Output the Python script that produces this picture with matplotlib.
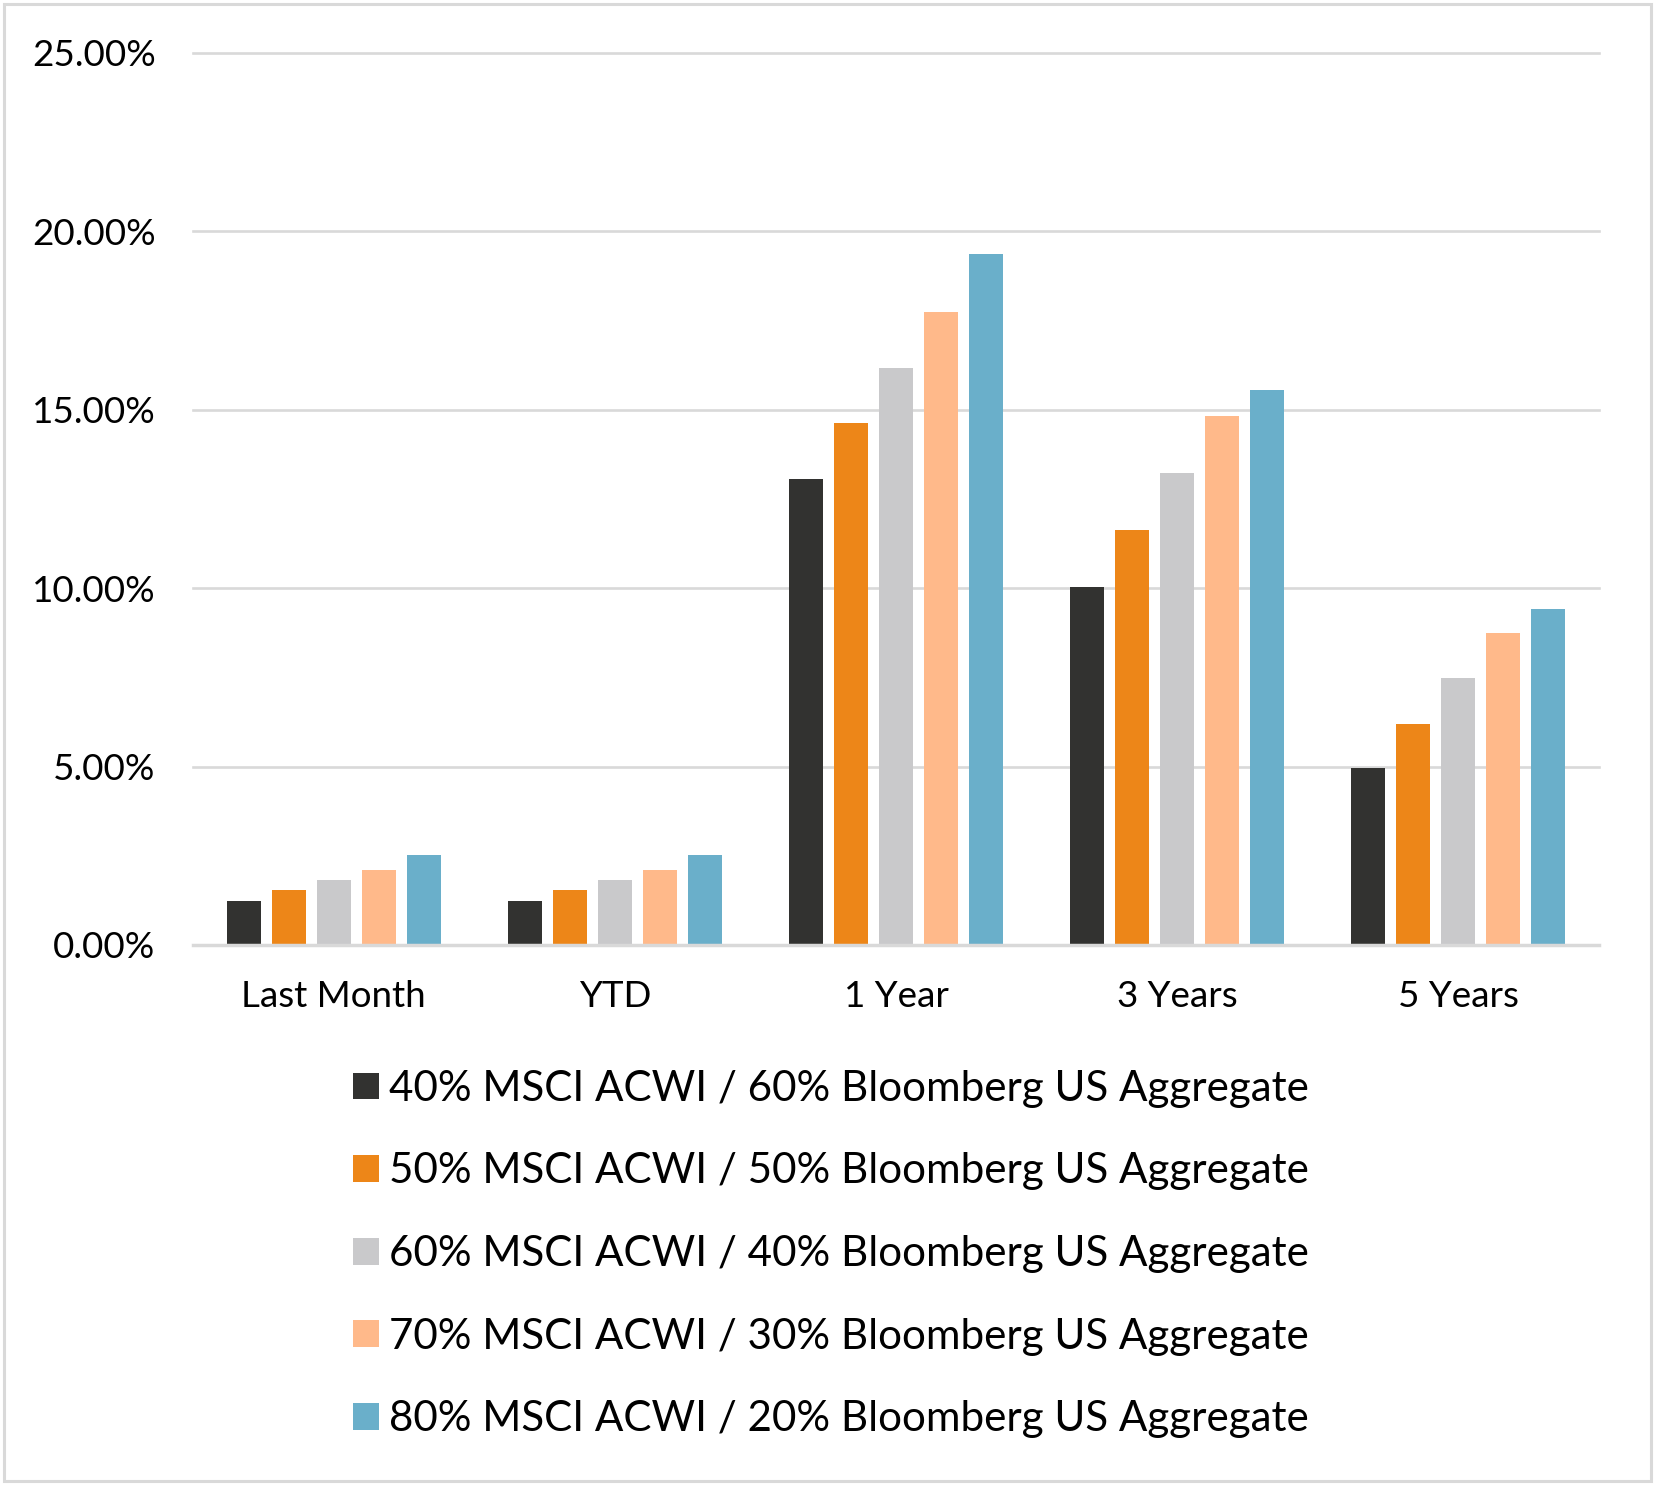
import matplotlib
matplotlib.use("Agg")
import matplotlib.pyplot as plt
from matplotlib.patches import Patch, Rectangle
from matplotlib.ticker import FuncFormatter
import numpy as np

plt.rcParams['font.family'] = ['Lato', 'DejaVu Sans']

categories = ["Last Month", "YTD", "1 Year", "3 Years", "5 Years"]
series_names = [
    "40% MSCI ACWI / 60% Bloomberg US Aggregate",
    "50% MSCI ACWI / 50% Bloomberg US Aggregate",
    "60% MSCI ACWI / 40% Bloomberg US Aggregate",
    "70% MSCI ACWI / 30% Bloomberg US Aggregate",
    "80% MSCI ACWI / 20% Bloomberg US Aggregate",
]
s40 = [1.23, 1.23, 13.05, 10.02, 4.95]
s50 = [1.53, 1.53, 14.62, 11.62, 6.20]
s60 = [1.82, 1.82, 16.16, 13.22, 7.47]
s70 = [2.11, 2.11, 17.73, 14.82, 8.74]
s80 = [2.53, 2.53, 19.36, 15.56, 9.43]
series_values = [s40, s50, s60, s70, s80]
colors = ["#323230", "#ED8618", "#C9C9CB", "#FFB98A", "#6AAFCA"]
yticks = [0, 5, 10, 15, 20, 25]

W, H = 1659, 1485
fig = plt.figure(figsize=(W / 100, H / 100), dpi=100)
ax = fig.add_axes([193 / W, 1 - 945 / H, (1599 - 193) / W, (945 - 53) / H])

x = np.arange(len(categories))
step = 0.16
width = 0.121
for i, (vals, col) in enumerate(zip(series_values, colors)):
    ax.bar(x + (i - 2) * step, vals, width=width, color=col, zorder=3,
           linewidth=0)

ax.set_xlim(-0.5, len(categories) - 0.5)
ax.set_ylim(0, 25)
for t in yticks:
    ax.axhline(t, color="#D9D9D9", lw=2.5 if t == 0 else 1.9, zorder=1 if t else 4,
               clip_on=False)

ax.set_yticks(yticks)
ax.yaxis.set_major_formatter(FuncFormatter(lambda v, p: f"{v:.2f}%"))
ax.set_xticks(x)
ax.set_xticklabels(categories)
ax.tick_params(axis='y', length=0, pad=27, labelsize=26.5, labelcolor="#000000")
ax.tick_params(axis='x', length=0, pad=25, labelsize=26.5, labelcolor="#000000")
for sp in ax.spines.values():
    sp.set_visible(False)

handles = [Patch(facecolor=c, edgecolor='none') for c in colors]
fig.legend(handles, series_names, loc='center', bbox_to_anchor=(0.501, 0.1555),
           frameon=False, fontsize=30.3, handlelength=0.6, handleheight=0.6,
           handletextpad=0.25, labelspacing=1.06, borderaxespad=0, borderpad=0)

fig.patches.append(Rectangle((4 / W, 1 - 1481 / H), (1651 - 4) / W, (1481 - 4) / H,
                             transform=fig.transFigure, fill=False,
                             edgecolor="#D9D9D9", linewidth=2.2))

fig.savefig("out.png", dpi=100, facecolor="white")
